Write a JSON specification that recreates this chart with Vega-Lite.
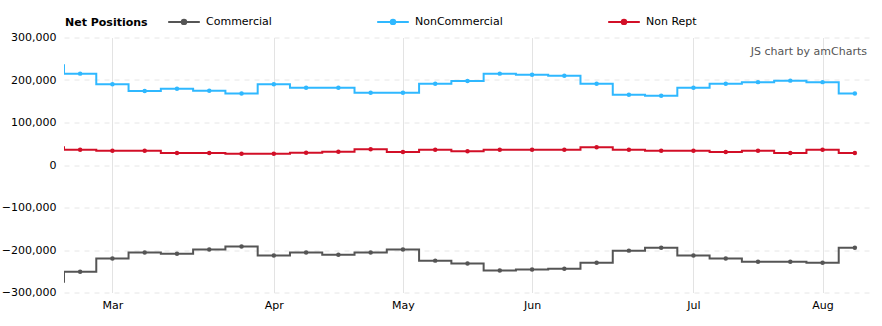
{
  "$schema": "https://vega.github.io/schema/vega-lite/v6.json",
  "autosize": "none",
  "width": 807,
  "height": 255,
  "padding": {"left": 64, "top": 37.5, "right": 11, "bottom": 33.5},
  "background": "white",
  "config": {
    "view": {"stroke": null},
    "font": "DejaVu Sans",
    "axis": {"labelFont": "DejaVu Sans", "labelFontSize": 11, "labelColor": "#000000", "domain": false, "ticks": false, "title": null},
    "axisX": {"gridColor": "#e3e3e3", "gridWidth": 1, "labelPadding": 7},
    "axisY": {"gridColor": "#e6e6e6", "gridDash": [5, 5], "labelPadding": 8}
  },
  "datasets": {
    "cot": [
      {"date": "2021-02-16", "series": "Commercial", "value": -274500},
      {"date": "2021-02-23", "series": "Commercial", "value": -251000},
      {"date": "2021-03-02", "series": "Commercial", "value": -220000},
      {"date": "2021-03-09", "series": "Commercial", "value": -206000},
      {"date": "2021-03-16", "series": "Commercial", "value": -209000},
      {"date": "2021-03-23", "series": "Commercial", "value": -199000},
      {"date": "2021-03-30", "series": "Commercial", "value": -192000},
      {"date": "2021-04-06", "series": "Commercial", "value": -213000},
      {"date": "2021-04-13", "series": "Commercial", "value": -206000},
      {"date": "2021-04-20", "series": "Commercial", "value": -211000},
      {"date": "2021-04-27", "series": "Commercial", "value": -206000},
      {"date": "2021-05-04", "series": "Commercial", "value": -199000},
      {"date": "2021-05-11", "series": "Commercial", "value": -225000},
      {"date": "2021-05-18", "series": "Commercial", "value": -232000},
      {"date": "2021-05-25", "series": "Commercial", "value": -248000},
      {"date": "2021-06-01", "series": "Commercial", "value": -246000},
      {"date": "2021-06-08", "series": "Commercial", "value": -244000},
      {"date": "2021-06-15", "series": "Commercial", "value": -230000},
      {"date": "2021-06-22", "series": "Commercial", "value": -201500},
      {"date": "2021-06-29", "series": "Commercial", "value": -194600},
      {"date": "2021-07-06", "series": "Commercial", "value": -213000},
      {"date": "2021-07-13", "series": "Commercial", "value": -220000},
      {"date": "2021-07-20", "series": "Commercial", "value": -227500},
      {"date": "2021-07-27", "series": "Commercial", "value": -227500},
      {"date": "2021-08-03", "series": "Commercial", "value": -230000},
      {"date": "2021-08-10", "series": "Commercial", "value": -194600},
      {"date": "2021-02-16", "series": "NonCommercial", "value": 235000},
      {"date": "2021-02-23", "series": "NonCommercial", "value": 215000},
      {"date": "2021-03-02", "series": "NonCommercial", "value": 190000},
      {"date": "2021-03-09", "series": "NonCommercial", "value": 174000},
      {"date": "2021-03-16", "series": "NonCommercial", "value": 179500},
      {"date": "2021-03-23", "series": "NonCommercial", "value": 174500},
      {"date": "2021-03-30", "series": "NonCommercial", "value": 168000},
      {"date": "2021-04-06", "series": "NonCommercial", "value": 190000},
      {"date": "2021-04-13", "series": "NonCommercial", "value": 182000},
      {"date": "2021-04-20", "series": "NonCommercial", "value": 182000},
      {"date": "2021-04-27", "series": "NonCommercial", "value": 170000},
      {"date": "2021-05-04", "series": "NonCommercial", "value": 170000},
      {"date": "2021-05-11", "series": "NonCommercial", "value": 191000},
      {"date": "2021-05-18", "series": "NonCommercial", "value": 197600},
      {"date": "2021-05-25", "series": "NonCommercial", "value": 215000},
      {"date": "2021-06-01", "series": "NonCommercial", "value": 212500},
      {"date": "2021-06-08", "series": "NonCommercial", "value": 210000},
      {"date": "2021-06-15", "series": "NonCommercial", "value": 191000},
      {"date": "2021-06-22", "series": "NonCommercial", "value": 165500},
      {"date": "2021-06-29", "series": "NonCommercial", "value": 163000},
      {"date": "2021-07-06", "series": "NonCommercial", "value": 182000},
      {"date": "2021-07-13", "series": "NonCommercial", "value": 191000},
      {"date": "2021-07-20", "series": "NonCommercial", "value": 195000},
      {"date": "2021-07-27", "series": "NonCommercial", "value": 198500},
      {"date": "2021-08-03", "series": "NonCommercial", "value": 195000},
      {"date": "2021-08-10", "series": "NonCommercial", "value": 168000},
      {"date": "2021-02-16", "series": "Non Rept", "value": 41600},
      {"date": "2021-02-23", "series": "Non Rept", "value": 36000},
      {"date": "2021-03-02", "series": "Non Rept", "value": 33600},
      {"date": "2021-03-09", "series": "Non Rept", "value": 33600},
      {"date": "2021-03-16", "series": "Non Rept", "value": 28200},
      {"date": "2021-03-23", "series": "Non Rept", "value": 28200},
      {"date": "2021-03-30", "series": "Non Rept", "value": 26600},
      {"date": "2021-04-06", "series": "Non Rept", "value": 26600},
      {"date": "2021-04-13", "series": "Non Rept", "value": 29000},
      {"date": "2021-04-20", "series": "Non Rept", "value": 31300},
      {"date": "2021-04-27", "series": "Non Rept", "value": 36900},
      {"date": "2021-05-04", "series": "Non Rept", "value": 30600},
      {"date": "2021-05-11", "series": "Non Rept", "value": 36000},
      {"date": "2021-05-18", "series": "Non Rept", "value": 32500},
      {"date": "2021-05-25", "series": "Non Rept", "value": 36000},
      {"date": "2021-06-01", "series": "Non Rept", "value": 36000},
      {"date": "2021-06-08", "series": "Non Rept", "value": 36000},
      {"date": "2021-06-15", "series": "Non Rept", "value": 41600},
      {"date": "2021-06-22", "series": "Non Rept", "value": 36000},
      {"date": "2021-06-29", "series": "Non Rept", "value": 33600},
      {"date": "2021-07-06", "series": "Non Rept", "value": 33600},
      {"date": "2021-07-13", "series": "Non Rept", "value": 30600},
      {"date": "2021-07-20", "series": "Non Rept", "value": 33600},
      {"date": "2021-07-27", "series": "Non Rept", "value": 28200},
      {"date": "2021-08-03", "series": "Non Rept", "value": 36000},
      {"date": "2021-08-10", "series": "Non Rept", "value": 28200}
    ],
    "credit": [{"note": "JS chart by amCharts"}]
  },
  "layer": [
    {
      "data": {"name": "cot"},
      "mark": {"type": "line", "interpolate": "step", "strokeWidth": 2, "clip": true},
      "encoding": {
        "x": {
          "field": "date",
          "type": "temporal",
          "scale": {
            "type": "utc",
            "domain": [
              {"year": 2021, "month": 2, "date": 19, "hours": 12, "utc": true},
              {"year": 2021, "month": 8, "date": 13, "hours": 12, "utc": true}
            ]
          },
          "axis": {
            "values": [
              {"year": 2021, "month": 3, "date": 2, "utc": true},
              {"year": 2021, "month": 4, "date": 6, "utc": true},
              {"year": 2021, "month": 5, "date": 4, "utc": true},
              {"year": 2021, "month": 6, "date": 1, "utc": true},
              {"year": 2021, "month": 7, "date": 6, "utc": true},
              {"year": 2021, "month": 8, "date": 3, "utc": true}
            ],
            "format": "%b",
            "grid": true
          }
        },
        "y": {
          "field": "value",
          "type": "quantitative",
          "scale": {"domain": [-300000, 300000], "nice": false, "zero": false},
          "axis": {"values": [-300000, -200000, -100000, 0, 100000, 200000, 300000], "format": ",.0f", "grid": true}
        },
        "color": {
          "field": "series",
          "type": "nominal",
          "scale": {"domain": ["Commercial", "NonCommercial", "Non Rept"], "range": ["#555555", "#2fb8ff", "#d20f27"]},
          "legend": {
            "orient": "none",
            "legendX": 1,
            "legendY": -33,
            "direction": "horizontal",
            "title": "Net Positions",
            "titleOrient": "left",
            "titleFont": "DejaVu Sans",
            "titleFontSize": 11,
            "titleFontWeight": "bold",
            "titleColor": "#000000",
            "titlePadding": 19,
            "titleBaseline": "top",
            "labelFont": "DejaVu Sans",
            "labelFontSize": 11,
            "labelColor": "#000000",
            "labelOffset": 5,
            "columnPadding": 101,
            "symbolType": "M-1,0L1,0M-0.14,0A0.14,0.14,0,1,0,0.14,0A0.14,0.14,0,1,0,-0.14,0Z",
            "symbolSize": 1000,
            "symbolStrokeWidth": 2,
            "encode": {"symbols": {"update": {"fill": {"scale": "color", "field": "value"}, "stroke": {"scale": "color", "field": "value"}, "opacity": {"value": 1}}}}
          }
        }
      }
    },
    {
      "data": {"name": "cot"},
      "transform": [{"filter": "time(datum.date) >= time(datetime(2021, 1, 20))"}],
      "mark": {"type": "point", "filled": true, "size": 20, "opacity": 1, "clip": true},
      "encoding": {
        "x": {"field": "date", "type": "temporal"},
        "y": {"field": "value", "type": "quantitative"},
        "color": {"field": "series", "type": "nominal"}
      }
    },
    {
      "data": {"name": "credit"},
      "mark": {"type": "text", "align": "right", "baseline": "top", "dx": -4, "dy": 8, "fontSize": 11, "font": "DejaVu Sans", "fill": "#555555"},
      "encoding": {
        "x": {"datum": {"year": 2021, "month": 8, "date": 13, "hours": 12, "utc": true}, "type": "temporal"},
        "y": {"datum": 300000, "type": "quantitative"},
        "text": {"field": "note", "type": "nominal"}
      }
    }
  ]
}
